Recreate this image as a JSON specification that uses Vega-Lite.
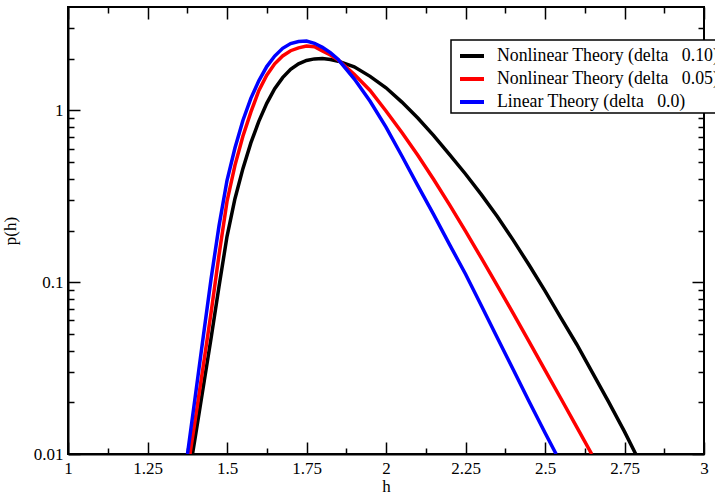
{
  "$schema": "https://vega.github.io/schema/vega-lite/v6.json",
  "width": 636,
  "height": 447,
  "autosize": {"type": "none"},
  "padding": {"left": 68, "top": 7, "right": 11, "bottom": 40},
  "background": "white",
  "config": {
    "view": {"stroke": "black", "strokeWidth": 2},
    "font": "Liberation Serif",
    "axis": {
      "domainColor": "black", "domainWidth": 2,
      "tickColor": "black", "tickWidth": 1.5,
      "labelFont": "Liberation Serif", "labelFontSize": 17, "labelColor": "black",
      "titleFont": "Liberation Serif", "titleFontSize": 17, "titleFontWeight": "normal", "titleColor": "black",
      "grid": false, "labelFlush": false, "labelOverlap": false
    }
  },
  "data": {"values": [
    {"s": "Nonlinear Theory (delta\u00a0\u00a0 0.10)", "h": 1.3915, "p": 0.01},
    {"s": "Nonlinear Theory (delta\u00a0\u00a0 0.10)", "h": 1.4, "p": 0.01248},
    {"s": "Nonlinear Theory (delta\u00a0\u00a0 0.10)", "h": 1.425, "p": 0.0243},
    {"s": "Nonlinear Theory (delta\u00a0\u00a0 0.10)", "h": 1.45, "p": 0.0474},
    {"s": "Nonlinear Theory (delta\u00a0\u00a0 0.10)", "h": 1.475, "p": 0.0946},
    {"s": "Nonlinear Theory (delta\u00a0\u00a0 0.10)", "h": 1.5, "p": 0.1845},
    {"s": "Nonlinear Theory (delta\u00a0\u00a0 0.10)", "h": 1.525, "p": 0.3062},
    {"s": "Nonlinear Theory (delta\u00a0\u00a0 0.10)", "h": 1.55, "p": 0.4581},
    {"s": "Nonlinear Theory (delta\u00a0\u00a0 0.10)", "h": 1.575, "p": 0.6471},
    {"s": "Nonlinear Theory (delta\u00a0\u00a0 0.10)", "h": 1.6, "p": 0.863},
    {"s": "Nonlinear Theory (delta\u00a0\u00a0 0.10)", "h": 1.625, "p": 1.099},
    {"s": "Nonlinear Theory (delta\u00a0\u00a0 0.10)", "h": 1.65, "p": 1.337},
    {"s": "Nonlinear Theory (delta\u00a0\u00a0 0.10)", "h": 1.675, "p": 1.552},
    {"s": "Nonlinear Theory (delta\u00a0\u00a0 0.10)", "h": 1.7, "p": 1.734},
    {"s": "Nonlinear Theory (delta\u00a0\u00a0 0.10)", "h": 1.725, "p": 1.866},
    {"s": "Nonlinear Theory (delta\u00a0\u00a0 0.10)", "h": 1.75, "p": 1.954},
    {"s": "Nonlinear Theory (delta\u00a0\u00a0 0.10)", "h": 1.775, "p": 1.995},
    {"s": "Nonlinear Theory (delta\u00a0\u00a0 0.10)", "h": 1.8, "p": 2.004},
    {"s": "Nonlinear Theory (delta\u00a0\u00a0 0.10)", "h": 1.825, "p": 1.98},
    {"s": "Nonlinear Theory (delta\u00a0\u00a0 0.10)", "h": 1.85, "p": 1.935},
    {"s": "Nonlinear Theory (delta\u00a0\u00a0 0.10)", "h": 1.9, "p": 1.796},
    {"s": "Nonlinear Theory (delta\u00a0\u00a0 0.10)", "h": 1.95, "p": 1.579},
    {"s": "Nonlinear Theory (delta\u00a0\u00a0 0.10)", "h": 2.0, "p": 1.354},
    {"s": "Nonlinear Theory (delta\u00a0\u00a0 0.10)", "h": 2.05, "p": 1.118},
    {"s": "Nonlinear Theory (delta\u00a0\u00a0 0.10)", "h": 2.1, "p": 0.903},
    {"s": "Nonlinear Theory (delta\u00a0\u00a0 0.10)", "h": 2.15, "p": 0.714},
    {"s": "Nonlinear Theory (delta\u00a0\u00a0 0.10)", "h": 2.2, "p": 0.5525},
    {"s": "Nonlinear Theory (delta\u00a0\u00a0 0.10)", "h": 2.25, "p": 0.4266},
    {"s": "Nonlinear Theory (delta\u00a0\u00a0 0.10)", "h": 2.3, "p": 0.3236},
    {"s": "Nonlinear Theory (delta\u00a0\u00a0 0.10)", "h": 2.35, "p": 0.2415},
    {"s": "Nonlinear Theory (delta\u00a0\u00a0 0.10)", "h": 2.4, "p": 0.1758},
    {"s": "Nonlinear Theory (delta\u00a0\u00a0 0.10)", "h": 2.45, "p": 0.1259},
    {"s": "Nonlinear Theory (delta\u00a0\u00a0 0.10)", "h": 2.5, "p": 0.0891},
    {"s": "Nonlinear Theory (delta\u00a0\u00a0 0.10)", "h": 2.55, "p": 0.062},
    {"s": "Nonlinear Theory (delta\u00a0\u00a0 0.10)", "h": 2.6, "p": 0.0434},
    {"s": "Nonlinear Theory (delta\u00a0\u00a0 0.10)", "h": 2.65, "p": 0.0296},
    {"s": "Nonlinear Theory (delta\u00a0\u00a0 0.10)", "h": 2.7, "p": 0.0201},
    {"s": "Nonlinear Theory (delta\u00a0\u00a0 0.10)", "h": 2.75, "p": 0.01349},
    {"s": "Nonlinear Theory (delta\u00a0\u00a0 0.10)", "h": 2.7852, "p": 0.01},

    {"s": "Nonlinear Theory (delta\u00a0\u00a0 0.05)", "h": 1.3836, "p": 0.01},
    {"s": "Nonlinear Theory (delta\u00a0\u00a0 0.05)", "h": 1.4, "p": 0.01585},
    {"s": "Nonlinear Theory (delta\u00a0\u00a0 0.05)", "h": 1.425, "p": 0.0322},
    {"s": "Nonlinear Theory (delta\u00a0\u00a0 0.05)", "h": 1.45, "p": 0.0666},
    {"s": "Nonlinear Theory (delta\u00a0\u00a0 0.05)", "h": 1.475, "p": 0.1445},
    {"s": "Nonlinear Theory (delta\u00a0\u00a0 0.05)", "h": 1.5, "p": 0.2951},
    {"s": "Nonlinear Theory (delta\u00a0\u00a0 0.05)", "h": 1.525, "p": 0.4786},
    {"s": "Nonlinear Theory (delta\u00a0\u00a0 0.05)", "h": 1.55, "p": 0.7079},
    {"s": "Nonlinear Theory (delta\u00a0\u00a0 0.05)", "h": 1.575, "p": 0.977},
    {"s": "Nonlinear Theory (delta\u00a0\u00a0 0.05)", "h": 1.6, "p": 1.303},
    {"s": "Nonlinear Theory (delta\u00a0\u00a0 0.05)", "h": 1.625, "p": 1.603},
    {"s": "Nonlinear Theory (delta\u00a0\u00a0 0.05)", "h": 1.65, "p": 1.867},
    {"s": "Nonlinear Theory (delta\u00a0\u00a0 0.05)", "h": 1.675, "p": 2.076},
    {"s": "Nonlinear Theory (delta\u00a0\u00a0 0.05)", "h": 1.7, "p": 2.226},
    {"s": "Nonlinear Theory (delta\u00a0\u00a0 0.05)", "h": 1.725, "p": 2.314},
    {"s": "Nonlinear Theory (delta\u00a0\u00a0 0.05)", "h": 1.75, "p": 2.368},
    {"s": "Nonlinear Theory (delta\u00a0\u00a0 0.05)", "h": 1.775, "p": 2.346},
    {"s": "Nonlinear Theory (delta\u00a0\u00a0 0.05)", "h": 1.8, "p": 2.22},
    {"s": "Nonlinear Theory (delta\u00a0\u00a0 0.05)", "h": 1.825, "p": 2.1},
    {"s": "Nonlinear Theory (delta\u00a0\u00a0 0.05)", "h": 1.85, "p": 1.965},
    {"s": "Nonlinear Theory (delta\u00a0\u00a0 0.05)", "h": 1.9, "p": 1.621},
    {"s": "Nonlinear Theory (delta\u00a0\u00a0 0.05)", "h": 1.95, "p": 1.306},
    {"s": "Nonlinear Theory (delta\u00a0\u00a0 0.05)", "h": 2.0, "p": 0.993},
    {"s": "Nonlinear Theory (delta\u00a0\u00a0 0.05)", "h": 2.05, "p": 0.7447},
    {"s": "Nonlinear Theory (delta\u00a0\u00a0 0.05)", "h": 2.1, "p": 0.5483},
    {"s": "Nonlinear Theory (delta\u00a0\u00a0 0.05)", "h": 2.15, "p": 0.3963},
    {"s": "Nonlinear Theory (delta\u00a0\u00a0 0.05)", "h": 2.2, "p": 0.2818},
    {"s": "Nonlinear Theory (delta\u00a0\u00a0 0.05)", "h": 2.25, "p": 0.1982},
    {"s": "Nonlinear Theory (delta\u00a0\u00a0 0.05)", "h": 2.3, "p": 0.138},
    {"s": "Nonlinear Theory (delta\u00a0\u00a0 0.05)", "h": 2.35, "p": 0.0955},
    {"s": "Nonlinear Theory (delta\u00a0\u00a0 0.05)", "h": 2.4, "p": 0.0658},
    {"s": "Nonlinear Theory (delta\u00a0\u00a0 0.05)", "h": 2.45, "p": 0.0451},
    {"s": "Nonlinear Theory (delta\u00a0\u00a0 0.05)", "h": 2.5, "p": 0.0308},
    {"s": "Nonlinear Theory (delta\u00a0\u00a0 0.05)", "h": 2.55, "p": 0.02104},
    {"s": "Nonlinear Theory (delta\u00a0\u00a0 0.05)", "h": 2.6, "p": 0.01432},
    {"s": "Nonlinear Theory (delta\u00a0\u00a0 0.05)", "h": 2.6469, "p": 0.01},

    {"s": "Linear Theory (delta\u00a0\u00a0 0.0)", "h": 1.3758, "p": 0.01},
    {"s": "Linear Theory (delta\u00a0\u00a0 0.0)", "h": 1.4, "p": 0.0215},
    {"s": "Linear Theory (delta\u00a0\u00a0 0.0)", "h": 1.425, "p": 0.0476},
    {"s": "Linear Theory (delta\u00a0\u00a0 0.0)", "h": 1.45, "p": 0.1048},
    {"s": "Linear Theory (delta\u00a0\u00a0 0.0)", "h": 1.475, "p": 0.2135},
    {"s": "Linear Theory (delta\u00a0\u00a0 0.0)", "h": 1.5, "p": 0.3906},
    {"s": "Linear Theory (delta\u00a0\u00a0 0.0)", "h": 1.525, "p": 0.6044},
    {"s": "Linear Theory (delta\u00a0\u00a0 0.0)", "h": 1.55, "p": 0.874},
    {"s": "Linear Theory (delta\u00a0\u00a0 0.0)", "h": 1.575, "p": 1.175},
    {"s": "Linear Theory (delta\u00a0\u00a0 0.0)", "h": 1.6, "p": 1.486},
    {"s": "Linear Theory (delta\u00a0\u00a0 0.0)", "h": 1.625, "p": 1.8},
    {"s": "Linear Theory (delta\u00a0\u00a0 0.0)", "h": 1.65, "p": 2.073},
    {"s": "Linear Theory (delta\u00a0\u00a0 0.0)", "h": 1.675, "p": 2.3},
    {"s": "Linear Theory (delta\u00a0\u00a0 0.0)", "h": 1.7, "p": 2.45},
    {"s": "Linear Theory (delta\u00a0\u00a0 0.0)", "h": 1.725, "p": 2.52},
    {"s": "Linear Theory (delta\u00a0\u00a0 0.0)", "h": 1.75, "p": 2.532},
    {"s": "Linear Theory (delta\u00a0\u00a0 0.0)", "h": 1.775, "p": 2.46},
    {"s": "Linear Theory (delta\u00a0\u00a0 0.0)", "h": 1.8, "p": 2.33},
    {"s": "Linear Theory (delta\u00a0\u00a0 0.0)", "h": 1.825, "p": 2.17},
    {"s": "Linear Theory (delta\u00a0\u00a0 0.0)", "h": 1.85, "p": 1.978},
    {"s": "Linear Theory (delta\u00a0\u00a0 0.0)", "h": 1.9, "p": 1.527},
    {"s": "Linear Theory (delta\u00a0\u00a0 0.0)", "h": 1.95, "p": 1.13},
    {"s": "Linear Theory (delta\u00a0\u00a0 0.0)", "h": 2.0, "p": 0.8},
    {"s": "Linear Theory (delta\u00a0\u00a0 0.0)", "h": 2.05, "p": 0.543},
    {"s": "Linear Theory (delta\u00a0\u00a0 0.0)", "h": 2.1, "p": 0.3653},
    {"s": "Linear Theory (delta\u00a0\u00a0 0.0)", "h": 2.15, "p": 0.2475},
    {"s": "Linear Theory (delta\u00a0\u00a0 0.0)", "h": 2.2, "p": 0.1655},
    {"s": "Linear Theory (delta\u00a0\u00a0 0.0)", "h": 2.25, "p": 0.1116},
    {"s": "Linear Theory (delta\u00a0\u00a0 0.0)", "h": 2.3, "p": 0.0729},
    {"s": "Linear Theory (delta\u00a0\u00a0 0.0)", "h": 2.35, "p": 0.0475},
    {"s": "Linear Theory (delta\u00a0\u00a0 0.0)", "h": 2.4, "p": 0.031},
    {"s": "Linear Theory (delta\u00a0\u00a0 0.0)", "h": 2.45, "p": 0.0202},
    {"s": "Linear Theory (delta\u00a0\u00a0 0.0)", "h": 2.5, "p": 0.0133},
    {"s": "Linear Theory (delta\u00a0\u00a0 0.0)", "h": 2.535, "p": 0.01}
  ]},
  "layer": [
    {
      "mark": {"type": "line", "strokeWidth": 3.5, "clip": true},
      "encoding": {
        "x": {"field": "h", "type": "quantitative", "scale": {"domain": [1, 3], "nice": false, "zero": false},
          "axis": {"orient": "bottom", "title": "h", "values": [1, 1.25, 1.5, 1.75, 2, 2.25, 2.5, 2.75, 3], "labelExpr": "'' + datum.value", "tickSize": -12, "labelPadding": 18, "titlePadding": 2}},
        "y": {"field": "p", "type": "quantitative", "scale": {"type": "log", "domain": [0.01, 4], "nice": false},
          "axis": {"orient": "left", "title": "p(h)", "values": [0.01, 0.1, 1], "labelExpr": "'' + datum.value", "tickSize": -12, "labelPadding": 17, "titlePadding": 14}},
        "color": {"field": "s", "type": "nominal", "sort": null,
          "scale": {"domain": ["Nonlinear Theory (delta\u00a0\u00a0 0.10)", "Nonlinear Theory (delta\u00a0\u00a0 0.05)", "Linear Theory (delta\u00a0\u00a0 0.0)"], "range": ["#000000", "#ff0000", "#0000ff"]},
          "legend": {"title": null, "orient": "none", "legendX": 383, "legendY": 33,
            "strokeColor": "black", "fillColor": "white", "padding": 2,
            "symbolType": "stroke", "symbolSize": 576, "symbolStrokeWidth": 4, "symbolOffset": 5,
            "labelFont": "Liberation Serif", "labelFontSize": 17.8, "labelColor": "black", "labelOffset": 11, "labelLimit": 400, "rowPadding": -1,
            "encode": {"legend": {"update": {"strokeWidth": {"value": 1.5}}}}}}
      }
    },
    {
      "mark": {"type": "point", "opacity": 0},
      "encoding": {
        "x": {"field": "h", "type": "quantitative",
          "axis": {"orient": "bottom", "title": null, "labels": false, "domain": false, "tickSize": -6, "values": [1.125, 1.375, 1.625, 1.875, 2.125, 2.375, 2.625, 2.875]}},
        "y": {"field": "p", "type": "quantitative",
          "axis": {"orient": "left", "title": null, "labels": false, "domain": false, "tickSize": -6, "values": [0.02, 0.03, 0.04, 0.05, 0.06, 0.07, 0.08, 0.09, 0.2, 0.3, 0.4, 0.5, 0.6, 0.7, 0.8, 0.9, 2, 3]}}
      }
    },
    {
      "mark": {"type": "point", "opacity": 0},
      "encoding": {
        "x": {"field": "h", "type": "quantitative",
          "axis": {"orient": "top", "title": null, "labels": false, "domain": false, "tickSize": -12, "values": [1, 1.25, 1.5, 1.75, 2, 2.25, 2.5, 2.75, 3]}},
        "y": {"field": "p", "type": "quantitative",
          "axis": {"orient": "right", "title": null, "labels": false, "domain": false, "tickSize": -12, "values": [0.01, 0.1, 1]}}
      }
    },
    {
      "mark": {"type": "point", "opacity": 0},
      "encoding": {
        "x": {"field": "h", "type": "quantitative",
          "axis": {"orient": "top", "title": null, "labels": false, "domain": false, "tickSize": -6, "values": [1.125, 1.375, 1.625, 1.875, 2.125, 2.375, 2.625, 2.875]}},
        "y": {"field": "p", "type": "quantitative",
          "axis": {"orient": "right", "title": null, "labels": false, "domain": false, "tickSize": -6, "values": [0.02, 0.03, 0.04, 0.05, 0.06, 0.07, 0.08, 0.09, 0.2, 0.3, 0.4, 0.5, 0.6, 0.7, 0.8, 0.9, 2, 3]}}
      }
    }
  ],
  "resolve": {"axis": {"x": "independent", "y": "independent"}}
}
